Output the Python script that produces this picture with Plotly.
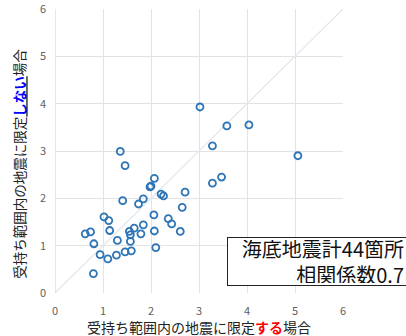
import plotly.graph_objects as go

# data
x_vals = [3.02, 3.58, 3.28, 1.36, 1.46, 2.07, 2.00, 1.98, 3.28, 3.47, 2.21, 2.26, 2.71, 1.41,
          1.74, 1.84, 2.65, 2.06, 2.36, 2.43, 2.61, 2.07, 1.84, 1.79, 1.65, 1.55, 1.57, 1.57,
          1.30, 1.14, 1.02, 1.12, 0.63, 0.74, 0.81, 0.94, 1.10, 1.28, 1.46, 1.59, 2.10, 0.80,
          4.04, 5.06]
y_vals = [3.93, 3.53, 3.11, 2.99, 2.69, 2.42, 2.26, 2.24, 2.32, 2.45, 2.09, 2.05, 2.13, 1.95,
          1.88, 1.99, 1.81, 1.65, 1.57, 1.46, 1.30, 1.31, 1.44, 1.25, 1.37, 1.30, 1.23, 1.09,
          1.11, 1.32, 1.61, 1.53, 1.25, 1.29, 1.04, 0.81, 0.72, 0.80, 0.87, 0.89, 0.96, 0.41,
          3.55, 2.90]
diag = [0, 6]
ticks = [0, 1, 2, 3, 4, 5, 6]

FONT = "Noto Sans CJK JP"
L, R, T, B = 55, 63, 9, 42.5
PW, PH = 406 - L - R, 336 - T - B

fig = go.Figure()
fig.add_trace(go.Scatter(x=diag, y=diag, mode="lines",
                         line=dict(color="#dde5ee", width=1.2), hoverinfo="skip"))
fig.add_trace(go.Scatter(x=x_vals, y=y_vals, mode="markers",
                         marker=dict(symbol="circle-open", size=7, color="#2e75b6",
                                     line=dict(width=1.8, color="#2e75b6"))))

axis_common = dict(range=[0, 6], tickvals=ticks, showgrid=True, gridcolor="#e3e3e3",
                   gridwidth=1, zeroline=False, showline=False, ticks="", automargin=False,
                   ticklabeloverflow="allow",
                   tickfont=dict(family=FONT, size=11, color="#606060"), fixedrange=True)
fig.update_xaxes(**axis_common, ticklabelstandoff=10)
fig.update_yaxes(**axis_common, ticklabelstandoff=8)

fig.add_shape(type="line", xref="x", yref="y", x0=0, x1=0, y0=0, y1=6,
              line=dict(color="#d0d0d0", width=1))

fig.add_annotation(xref="paper", yref="paper", x=(199 - L) / PW, y=(T + PH - 328) / PH,
                   xanchor="center", yanchor="middle", showarrow=False,
                   text="受持ち範囲内の地震に限定<b><span style='color:#ff0000'>する</span></b>場合",
                   font=dict(family=FONT, size=14, color="#222222"))
fig.add_annotation(xref="paper", yref="paper", x=(19 - L) / PW, y=(T + PH - 164) / PH,
                   xanchor="center", yanchor="middle", showarrow=False, textangle=-90,
                   text="受持ち範囲内の地震に限定<b><u><span style='color:#0000ff'>しない</span></u></b>場合",
                   font=dict(family=FONT, size=13.5, color="#222222"))

fig.add_annotation(xref="paper", yref="paper", showarrow=False,
                   x=(227 - L) / PW, y=(T + PH - 237) / PH, xanchor="left", yanchor="top",
                   text="海底地震計44箇所<br>相関係数0.7", align="right",
                   width=174, height=43, borderpad=2, bordercolor="#222222", borderwidth=1,
                   bgcolor="white",
                   font=dict(family=FONT, size=20, color="#111111"))

fig.update_layout(width=406, height=336, margin=dict(l=L, r=R, t=T, b=B),
                  paper_bgcolor="white", plot_bgcolor="white", showlegend=False)

fig.write_html("out.html", config={"displayModeBar": False, "staticPlot": True},
               post_script="document.body.style.margin='0';document.body.style.overflow='hidden';")
